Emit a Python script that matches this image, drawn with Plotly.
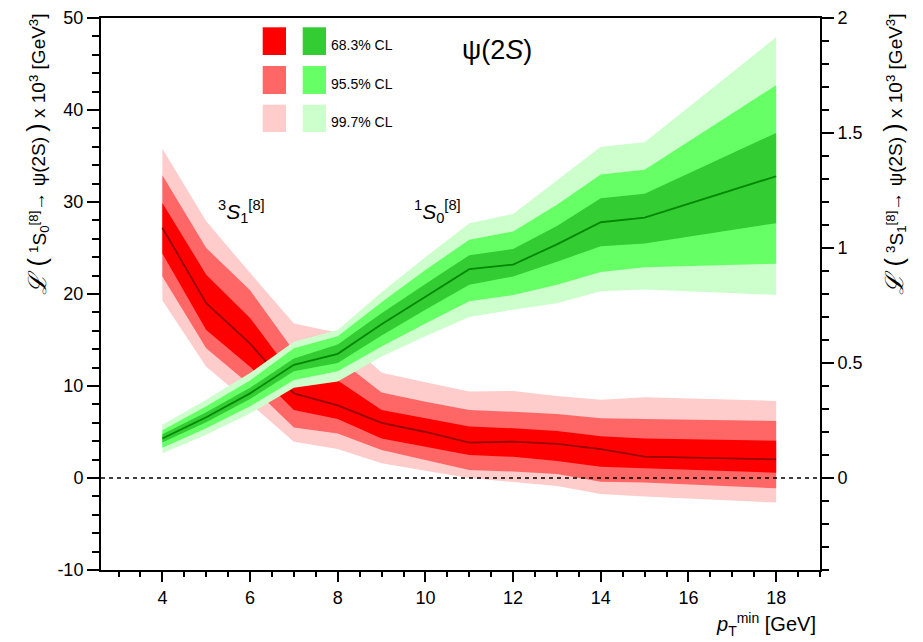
import plotly.graph_objects as go

# ---------------- data ----------------
pt = [4, 5, 6, 7, 8, 9, 10, 11, 12, 13, 14, 15, 18]

# 3S1[8] -> psi(2S)  (right axis, GeV^3 x 10^3)
s1_central = [1.088, 0.760, 0.584, 0.368, 0.316, 0.240, 0.200, 0.154, 0.158, 0.148, 0.126, 0.093, 0.081]
s1_68_hi = [1.196, 0.884, 0.696, 0.440, 0.424, 0.296, 0.260, 0.224, 0.216, 0.204, 0.182, 0.172, 0.162]
s1_68_lo = [0.976, 0.644, 0.484, 0.296, 0.256, 0.172, 0.136, 0.100, 0.092, 0.074, 0.049, 0.042, 0.023]
s1_95_hi = [1.316, 1.000, 0.816, 0.552, 0.520, 0.372, 0.332, 0.296, 0.288, 0.278, 0.260, 0.256, 0.248]
s1_95_lo = [0.876, 0.564, 0.404, 0.220, 0.194, 0.122, 0.080, 0.035, 0.028, 0.017, -0.016, -0.020, -0.045]
s1_99_hi = [1.432, 1.116, 0.892, 0.672, 0.632, 0.458, 0.416, 0.376, 0.378, 0.356, 0.340, 0.351, 0.335]
s1_99_lo = [0.772, 0.484, 0.324, 0.158, 0.126, 0.064, 0.032, 0.000, -0.016, -0.035, -0.070, -0.080, -0.107]

# 1S0[8] -> psi(2S)  (left axis, GeV^3 x 10^3)
s0_central = [4.3, 6.6, 9.2, 12.3, 13.5, 16.7, 19.7, 22.7, 23.2, 25.4, 27.8, 28.3, 32.8]
s0_68_hi = [4.75, 7.15, 9.8, 13.0, 14.5, 17.9, 21.1, 24.2, 24.9, 27.4, 30.4, 30.9, 37.5]
s0_68_lo = [3.85, 6.05, 8.6, 11.6, 12.5, 15.5, 18.3, 21.0, 21.9, 23.5, 25.2, 25.5, 27.7]
s0_95_hi = [5.2, 7.8, 10.6, 14.1, 15.4, 19.1, 22.6, 25.9, 26.8, 29.7, 33.0, 33.5, 42.7]
s0_95_lo = [3.3, 5.4, 7.8, 10.65, 11.6, 14.3, 16.8, 19.2, 19.9, 21.0, 22.4, 22.9, 23.3]
s0_99_hi = [5.8, 8.5, 11.4, 14.8, 16.1, 20.2, 24.0, 27.7, 28.7, 32.3, 36.0, 36.5, 47.9]
s0_99_lo = [2.7, 4.7, 7.0, 9.8, 10.5, 13.2, 15.4, 17.5, 18.3, 19.0, 20.3, 20.5, 19.9]

cl_labels = ["68.3% CL", "95.5% CL", "99.7% CL"]
left_tickvals = [-10, 0, 10, 20, 30, 40, 50]
left_ticktext = ["-10", "0", "10", "20", "30", "40", "50"]
left_minor = [v for v in range(-10, 51, 2)]

# ---------------- style ----------------
RED = ["#ff0000", "#ff6666", "#ffcccc"]
GRN = ["#33cc33", "#66ff66", "#ccffcc"]
FONT = "Liberation Sans, Arial, Helvetica, sans-serif"


def band(x, lo, hi, color, yaxis):
    return go.Scatter(x=x + x[::-1], y=hi + lo[::-1], fill="toself", fillcolor=color,
                      line=dict(width=0), mode="lines", yaxis=yaxis,
                      hoverinfo="skip", showlegend=False)


fig = go.Figure()
# red (3S1) on primary y (right side)
fig.add_trace(band(pt, s1_99_lo, s1_99_hi, RED[2], "y"))
fig.add_trace(band(pt, s1_95_lo, s1_95_hi, RED[1], "y"))
fig.add_trace(band(pt, s1_68_lo, s1_68_hi, RED[0], "y"))
fig.add_trace(go.Scatter(x=pt, y=s1_central, mode="lines", line=dict(color="#990000", width=1.8),
                         yaxis="y", showlegend=False))
# green (1S0) on overlay y2 (left side) - drawn on top
fig.add_trace(band(pt, s0_99_lo, s0_99_hi, GRN[2], "y2"))
fig.add_trace(band(pt, s0_95_lo, s0_95_hi, GRN[1], "y2"))
fig.add_trace(band(pt, s0_68_lo, s0_68_hi, GRN[0], "y2"))
fig.add_trace(go.Scatter(x=pt, y=s0_central, mode="lines", line=dict(color="#008800", width=1.8),
                         yaxis="y2", showlegend=False))

OFF = 8  # default page body margin
L, R, T, B = 101 - OFF, 103, 18 - OFF, 72
W, H = 923 - OFF, 642 - OFF
PW, PH = W - L - R, H - T - B
PLOT_LEFT = OFF + L
PLOT_BOTTOM = OFF + H - B


def px(xp):
    return (xp - PLOT_LEFT) / PW


def py(yp):
    return (PLOT_BOTTOM - yp) / PH


axis_common = dict(showline=True, linecolor="black", linewidth=2, showgrid=False, zeroline=False,
                   ticks="outside", tickcolor="black", tickwidth=1.5, automargin=False,
                   tickfont=dict(family=FONT, size=18, color="black"))

fig.update_layout(
    width=W, height=H, margin=dict(l=L, r=R, t=T, b=B, autoexpand=False),
    paper_bgcolor="white", plot_bgcolor="white", showlegend=False,
    xaxis=dict(range=[2.6, 19], dtick=2, tick0=0, ticklen=10, mirror=True,
               minor=dict(dtick=0.5, tick0=0, ticklen=5, tickwidth=1.5, ticks="outside", tickcolor="black"),
               **axis_common),
    yaxis=dict(range=[-0.4, 2.0], side="right", anchor="x", dtick=0.5, tick0=0, ticklen=12,
               minor=dict(dtick=0.1, tick0=0, ticklen=7, tickwidth=1.5, ticks="outside", tickcolor="black"),
               **axis_common),
    yaxis2=dict(range=[-10, 50], side="left", overlaying="y", anchor="x",
                tickmode="array", tickvals=left_tickvals, ticktext=left_ticktext, ticklen=12,
                minor=dict(tickmode="array", tickvals=left_minor, ticklen=7, tickwidth=1.5,
                           ticks="outside", tickcolor="black"),
                **axis_common),
)

shapes = [dict(type="line", xref="paper", x0=0, x1=1, yref="y", y0=0, y1=0,
               line=dict(color="black", width=1.5, dash="4px,4px"), layer="above")]

rows = [(27.3, 55.0), (66.0, 94.0), (104.7, 132.0)]
for i, (t, b) in enumerate(rows):
    shapes.append(dict(type="rect", xref="paper", yref="paper", x0=px(262.7), x1=px(286),
                       y0=py(b), y1=py(t), fillcolor=RED[i], line=dict(width=0)))
    shapes.append(dict(type="rect", xref="paper", yref="paper", x0=px(302.7), x1=px(326),
                       y0=py(b), y1=py(t), fillcolor=GRN[i], line=dict(width=0)))
fig.update_layout(shapes=shapes)

ann = []
for i, (t, b) in enumerate(rows):
    ann.append(dict(text=cl_labels[i], xref="paper", yref="paper", x=px(329), y=py((t + b) / 2 + 4),
                    xanchor="left", yanchor="middle", showarrow=False,
                    font=dict(family=FONT, size=14, color="black")))

ann.append(dict(text="ψ(2<i>S</i>)", xref="paper", yref="paper", x=px(497), y=py(50),
                xanchor="center", yanchor="middle", showarrow=False,
                font=dict(family=FONT, size=27, color="black")))
ann.append(dict(text="<sup>3</sup><i>S</i><sub>1</sub><sup>[8]</sup>", xref="paper", yref="paper",
                x=px(241), y=py(211), xanchor="center", yanchor="middle", showarrow=False,
                font=dict(family=FONT, size=21, color="black")))
ann.append(dict(text="<sup>1</sup><i>S</i><sub>0</sub><sup>[8]</sup>", xref="paper", yref="paper",
                x=px(437), y=py(211), xanchor="center", yanchor="middle", showarrow=False,
                font=dict(family=FONT, size=21, color="black")))
ann.append(dict(text="<i>p</i><sub>T</sub><sup>min</sup> [GeV]", xref="paper", yref="paper",
                x=px(818), y=py(624), xanchor="right", yanchor="middle", showarrow=False,
                font=dict(family=FONT, size=20, color="black")))

BIG = '<span style="font-size:25px">'
lbl_left = (BIG + "<i>ℒ</i> (</span> <sup>1</sup>S<sub>0</sub><sup>[8]</sup>→ ψ(2S) " + BIG + ")</span>"
            " x 10<sup>3</sup> [GeV<sup>3</sup>]")
lbl_right = (BIG + "<i>ℒ</i> (</span> <sup>3</sup>S<sub>1</sub><sup>[8]</sup>→ ψ(2S) " + BIG + ")</span>"
             " x 10<sup>3</sup> [GeV<sup>3</sup>]")
ann.append(dict(text=lbl_left, xref="paper", yref="paper", x=px(38), y=py(12), xanchor="center",
                yanchor="top", textangle=-90, showarrow=False,
                font=dict(family=FONT, size=19, color="black")))
ann.append(dict(text=lbl_right, xref="paper", yref="paper", x=px(895), y=py(12), xanchor="center",
                yanchor="top", textangle=-90, showarrow=False,
                font=dict(family=FONT, size=19, color="black")))
fig.update_layout(annotations=ann)

fig.write_html("out.html")
